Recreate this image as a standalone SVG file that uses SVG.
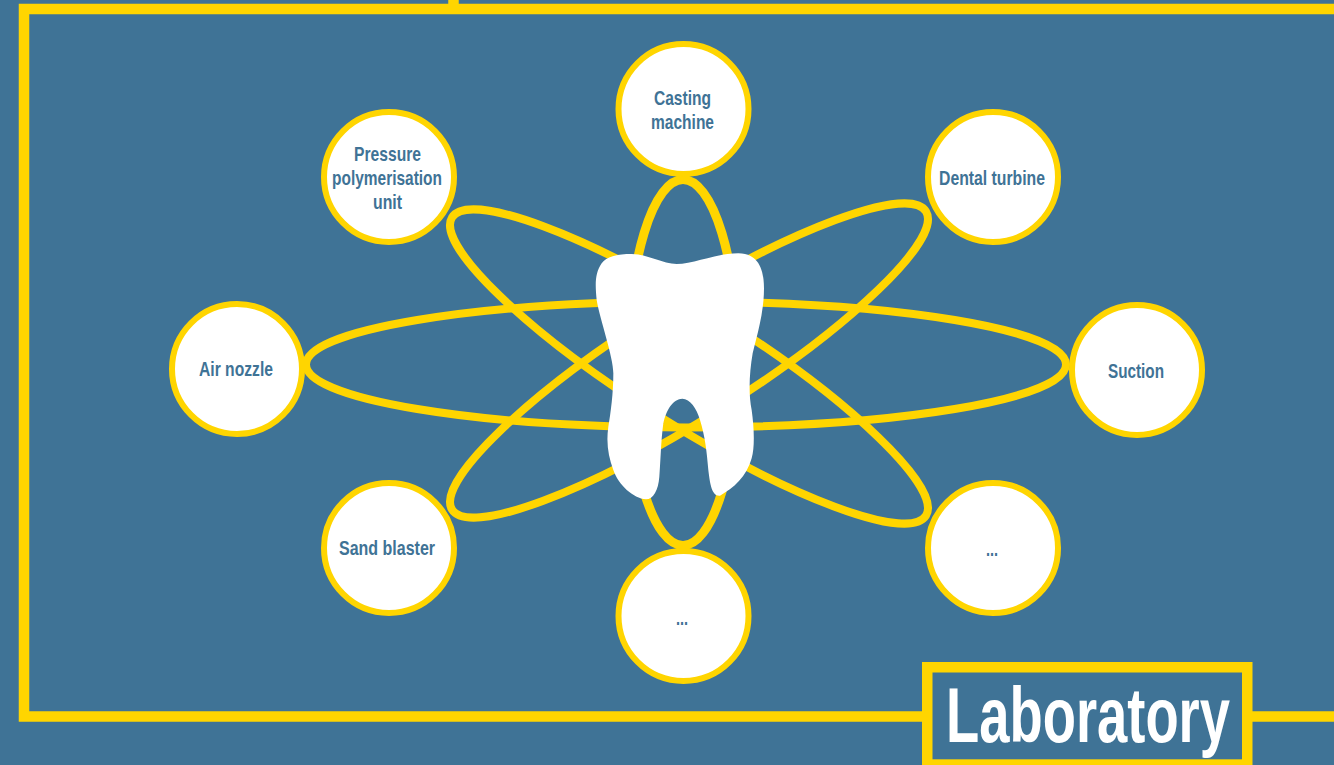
<svg xmlns="http://www.w3.org/2000/svg" width="1334" height="765" viewBox="0 0 1334 765">
<style>
.orb{fill:none;stroke:#ffd500;stroke-width:8}
.node{fill:#fff;stroke:#ffd500;stroke-width:6}
.t{font-family:"Liberation Sans Narrow","Liberation Sans",sans-serif;font-weight:700;font-size:21px;fill:#3f7396;text-anchor:middle}
.frame{fill:none;stroke:#ffd500;stroke-width:10.5}
</style>
<rect width="1334" height="765" fill="#3f7396"/>
<g id="frame">
<path class="frame" d="M453.5 0V9M1337 9H24V716.5H1337"/>
</g>
<g id="connectors">
<ellipse class="orb" cx="686" cy="364.5" rx="380" ry="63"/>
<ellipse class="orb" style="stroke-width:9" cx="683" cy="362.5" rx="55" ry="183"/>
<ellipse class="orb" cx="689" cy="366.5" rx="280" ry="58" transform="rotate(32.2 689 366.5)"/>
<ellipse class="orb" cx="689" cy="360.5" rx="280" ry="58" transform="rotate(-32.2 689 360.5)"/>
</g>
<g id="tooth">
<path fill="#fff" transform="translate(560 160) scale(.33333)" d="M350 312C400 312 470 280 535 280C590 280 612 320 612 385C612 460 590 530 578 580C568 640 565 700 575 750C582 800 585 860 575 895C560 950 520 985 480 1007C455 1010 450 970 445 930C440 870 435 830 420 780C410 745 390 716 367 716C340 716 318 750 310 790C303 840 302 900 298 950C295 990 280 1018 258 1018C220 1015 175 975 160 930C145 890 138 850 145 800C152 760 160 700 160 640C160 590 120 480 110 420C105 370 105 340 125 310C140 290 170 282 215 282C260 282 310 312 350 312Z"/>
</g>
<g id="node-casting"><circle class="node" cx="683.500" cy="109" r="65"/>
<text class="t" x="682.500" y="105" textLength="57" lengthAdjust="spacingAndGlyphs">Casting</text>
<text class="t" x="682.500" y="129" textLength="63" lengthAdjust="spacingAndGlyphs">machine</text></g>
<g id="node-pressure"><circle class="node" cx="389" cy="177" r="65"/>
<text class="t" x="387.500" y="161" textLength="67" lengthAdjust="spacingAndGlyphs">Pressure</text>
<text class="t" x="387" y="185" textLength="110" lengthAdjust="spacingAndGlyphs">polymerisation</text>
<text class="t" x="387.500" y="209" textLength="29" lengthAdjust="spacingAndGlyphs">unit</text></g>
<g id="node-dental"><circle class="node" cx="993" cy="177" r="65"/>
<text class="t" x="992" y="185" textLength="106" lengthAdjust="spacingAndGlyphs">Dental turbine</text></g>
<g id="node-air"><circle class="node" cx="237" cy="369" r="65"/>
<text class="t" x="236" y="376" textLength="74" lengthAdjust="spacingAndGlyphs">Air nozzle</text></g>
<g id="node-suction"><circle class="node" cx="1137" cy="370" r="65"/>
<text class="t" x="1136" y="378" textLength="56" lengthAdjust="spacingAndGlyphs">Suction</text></g>
<g id="node-sand"><circle class="node" cx="389" cy="548" r="65"/>
<text class="t" x="387" y="555" textLength="96" lengthAdjust="spacingAndGlyphs">Sand blaster</text></g>
<g id="node-more1"><circle class="node" cx="993" cy="548" r="65"/>
<text class="t" x="992" y="556" textLength="12" lengthAdjust="spacingAndGlyphs">...</text></g>
<g id="node-more2"><circle class="node" cx="683.500" cy="616" r="65"/>
<text class="t" x="682" y="625" textLength="12" lengthAdjust="spacingAndGlyphs">...</text></g>
<g id="label">
<rect class="frame" x="927.250" y="667.250" width="320" height="97.300" fill="#3f7396" style="fill:#3f7396"/>
<text x="1088" y="742" font-family="'Liberation Sans Narrow','Liberation Sans',sans-serif" font-weight="700" font-size="77" fill="#fff" text-anchor="middle" textLength="284" lengthAdjust="spacingAndGlyphs">Laboratory</text>
</g>
</svg>
